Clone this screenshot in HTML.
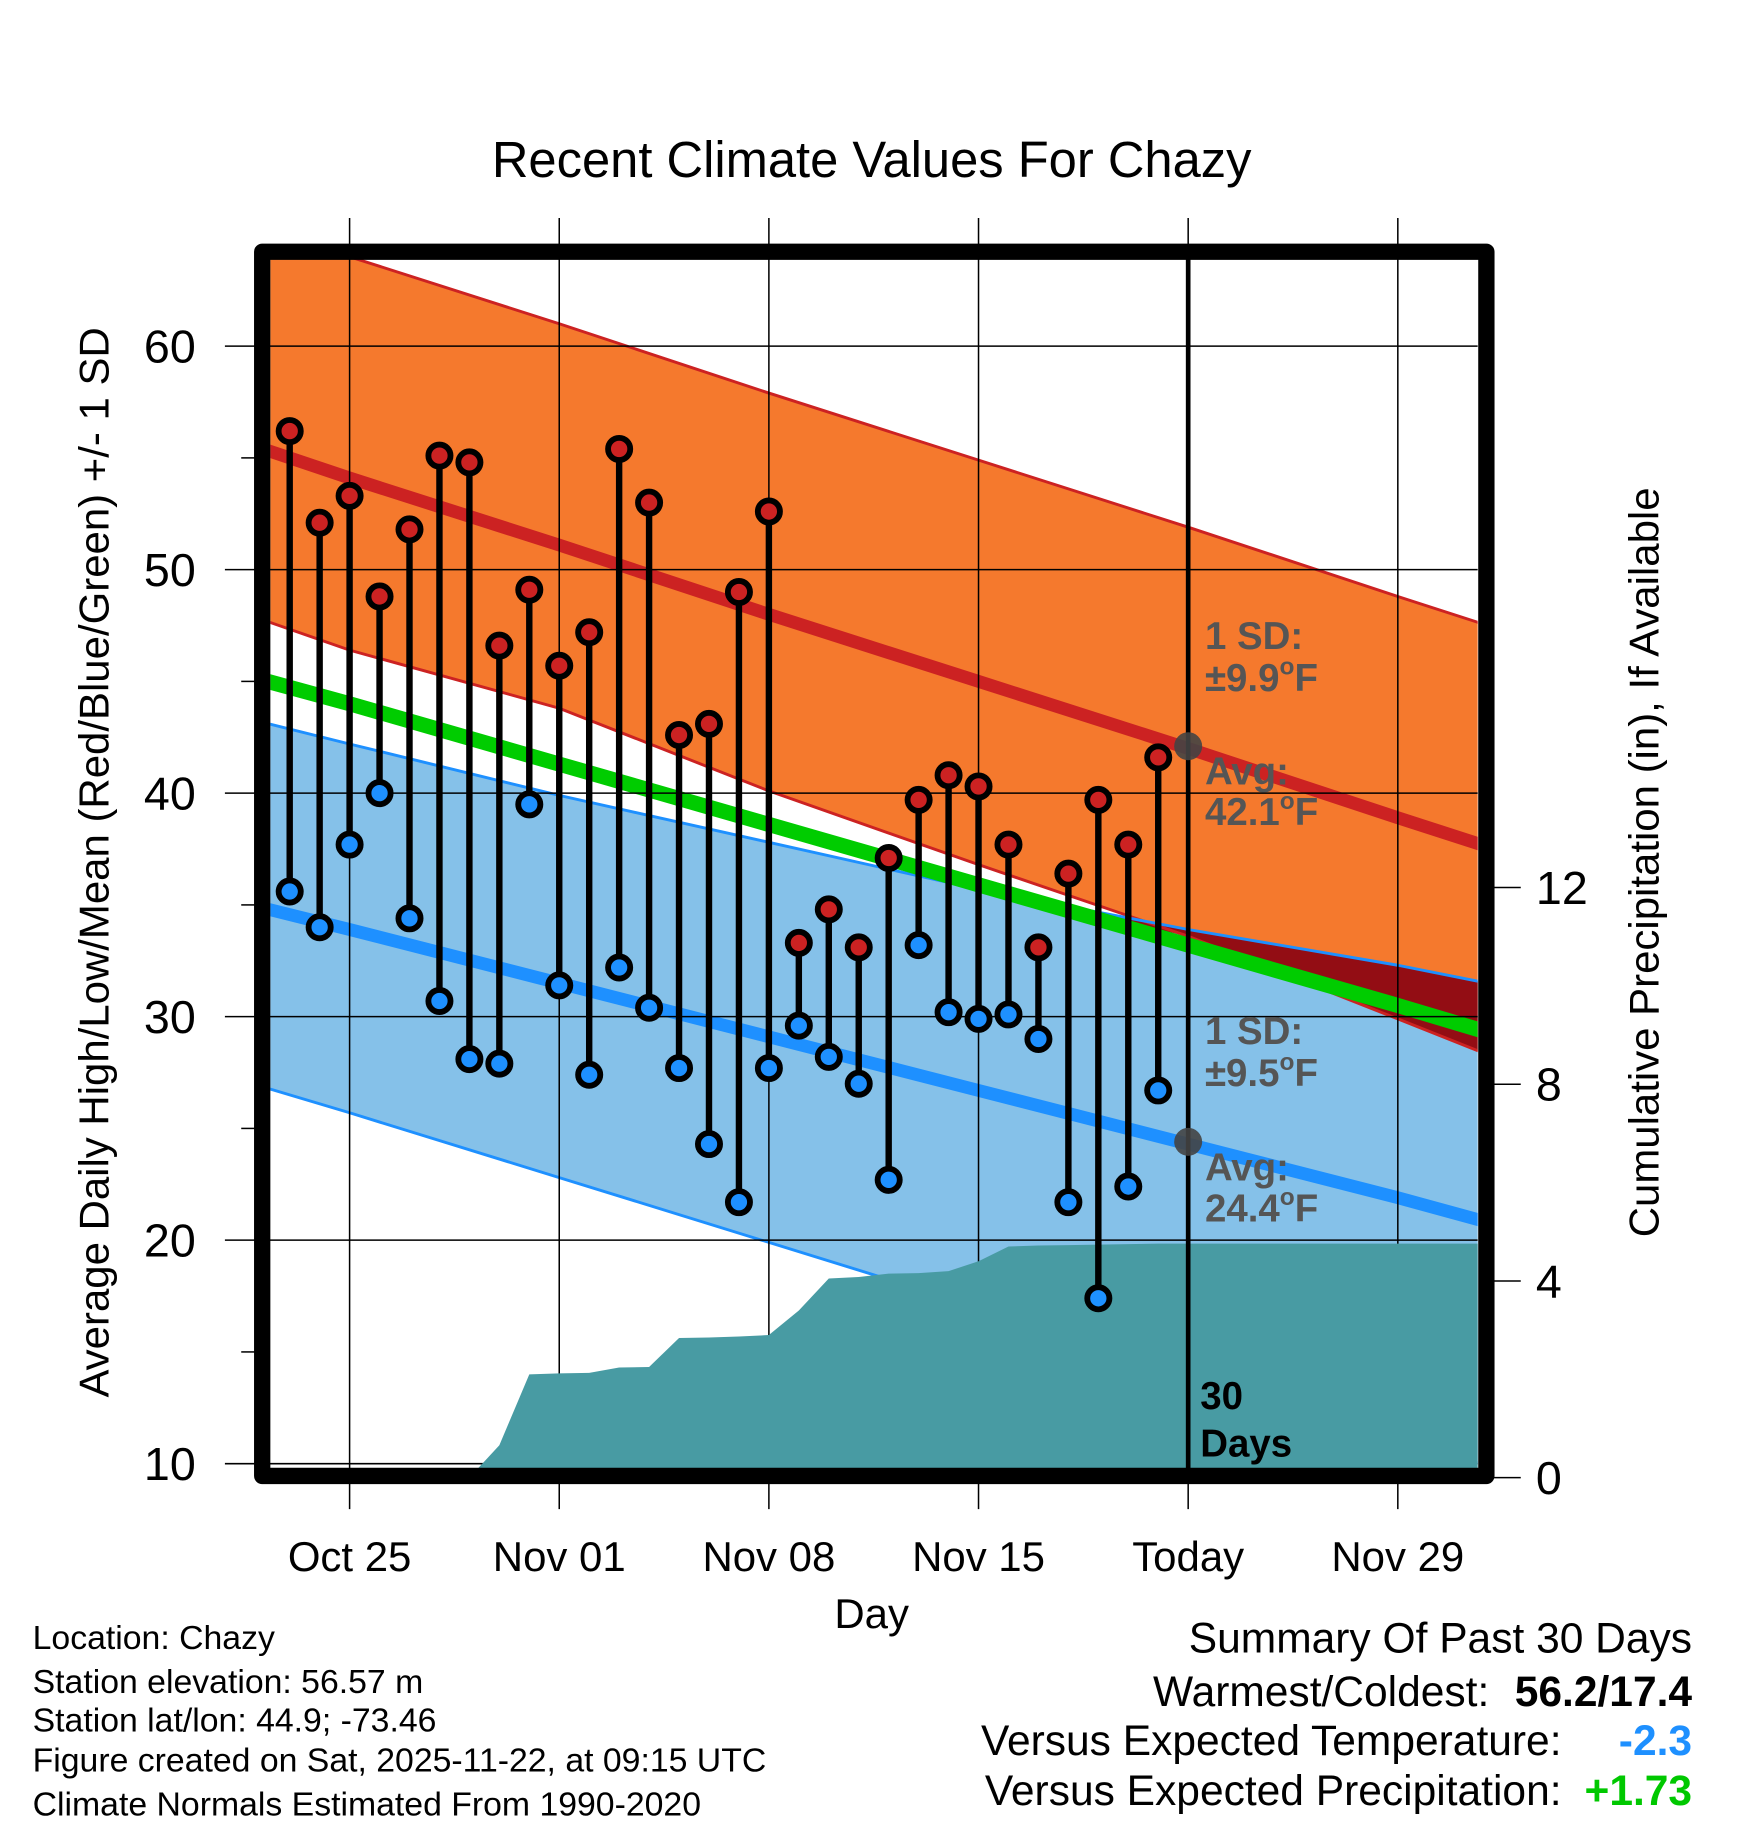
<!DOCTYPE html>
<html><head><meta charset="utf-8"><style>
html,body{margin:0;padding:0;background:#fff;}
svg{display:block;font-family:"Liberation Sans",Arial,sans-serif;}
</style></head><body>
<svg id="chart" width="1748" height="1828" viewBox="0 0 1500 1568.6" xmlns="http://www.w3.org/2000/svg">
<defs><clipPath id="plotClip"><rect x="232" y="222" width="1036" height="1038"/></clipPath></defs>
<text x="748" y="152" font-size="43.5" text-anchor="middle">Recent Climate Values For Chazy</text>
<g id="fills" clip-path="url(#plotClip)"></g>
<g id="grid"></g>
<g id="precip" clip-path="url(#plotClip)"></g>
<g id="marks"></g>
<g id="labels"></g>
<text transform="translate(93,740) rotate(-90)" font-size="36" text-anchor="middle">Average Daily High/Low/Mean (Red/Blue/Green) +/- 1 SD</text>
<text transform="translate(1423,740) rotate(-90)" font-size="36" text-anchor="middle">Cumulative Precipitation (in), If Available</text>
<text x="748" y="1397" font-size="36" text-anchor="middle">Day</text>
<g font-size="29">
<text x="28" y="1415">Location: Chazy</text>
<text x="28" y="1453">Station elevation: 56.57 m</text>
<text x="28" y="1486">Station lat/lon: 44.9; -73.46</text>
<text x="28" y="1520">Figure created on Sat, 2025-11-22, at 09:15 UTC</text>
<text x="28" y="1558">Climate Normals Estimated From 1990-2020</text>
</g>
<g font-size="36.5">
<text x="1452" y="1418" text-anchor="end">Summary Of Past 30 Days</text>
<text x="1278" y="1464" text-anchor="end">Warmest/Coldest:</text>
<text x="1452" y="1464" text-anchor="end" font-weight="bold">56.2/17.4</text>
<text x="1340" y="1506" text-anchor="end">Versus Expected Temperature:</text>
<text x="1452" y="1506" text-anchor="end" font-weight="bold" fill="#1E90FF">-2.3</text>
<text x="1340" y="1549" text-anchor="end">Versus Expected Precipitation:</text>
<text x="1452" y="1549" text-anchor="end" font-weight="bold" fill="#00C800">+1.73</text>
</g>
</svg>
<script>
// Days are offsets from Oct 25
const normDays = [-3, 0, 7, 14, 21, 28, 35, 38];
const highUpper = [65.35, 64.0, 61.0, 57.9, 54.9, 51.9, 48.8, 47.5];
const highAvg = [55.45, 54.1, 51.1, 48.0, 45.0, 42.0, 38.9, 37.6];
const highLower = [47.8, 46.4, 43.8, 40.1, 36.8, 33.6, 29.9, 28.3];
const meanAvg = [45.1, 44.0, 41.3, 38.6, 35.9, 33.2, 30.5, 29.3];
const lowUpper = [43.2, 42.2, 39.9, 37.8, 35.7, 33.9, 32.3, 31.5];
const lowAvg = [34.9, 33.9, 31.5, 29.1, 26.7, 24.3, 21.9, 20.8];
const lowLower = [26.9, 25.7, 22.8, 19.9, 17.0, 14.1, 11.2, 9.9];
const obsDays = [-2,-1,0,1,2,3,4,5,6,7,8,9,10,11,12,13,14,15,16,17,18,19,20,21,22,23,24,25,26,27];
const highs = [56.2,52.1,53.3,48.8,51.8,55.1,54.8,46.6,49.1,45.7,47.2,55.4,53.0,42.6,43.1,49.0,52.6,33.3,34.8,33.1,37.1,39.7,40.8,40.3,37.7,33.1,36.4,39.7,37.7,41.6];
const lows = [35.6,34.0,37.7,40.0,34.4,30.7,28.1,27.9,39.5,31.4,27.4,32.2,30.4,27.7,24.3,21.7,27.7,29.6,28.2,27.0,22.7,33.2,30.2,29.9,30.1,29.0,21.7,17.4,22.4,26.7];
const precipDays = [-3,-2,-1,0,1,2,3,4,5,6,7,8,9,10,11,12,13,14,15,16,17,18,19,20,21,22,23,24,25,26,27,28,38];
const precip = [0,0,0,0,0,0,0,0,0.66,2.1,2.12,2.13,2.24,2.25,2.84,2.85,2.87,2.9,3.4,4.05,4.08,4.15,4.16,4.2,4.4,4.7,4.72,4.73,4.74,4.75,4.76,4.76,4.76];
const tempTicks = [10,20,30,40,50,60];
const precipTicks = [0,4,8,12];
const xTickDays = [0,7,14,21,28,35];
const xTickLabels = ["Oct 25","Nov 01","Nov 08","Nov 15","Today","Nov 29"];
const todayDay = 28;
const todayHigh = 42.1, todayLow = 24.4;

const NS = "http://www.w3.org/2000/svg";
const X = d => 300 + d * 25.7;
const YT = t => 297 + (60 - t) * 19.18;
const YP = p => 1268 - p * 42.2;
function mk(tag, attrs, parent){const e=document.createElementNS(NS,tag);for(const k in attrs)e.setAttribute(k,attrs[k]);parent.appendChild(e);return e;}
const fills=document.getElementById('fills'), grid=document.getElementById('grid'), pr=document.getElementById('precip'), marks=document.getElementById('marks'), labels=document.getElementById('labels');
function band(up, lo){let p=normDays.map((d,i)=>X(d)+','+YT(up[i]));p=p.concat(normDays.map((d,i)=>X(d)+','+YT(lo[i])).reverse());return p.join(' ');}
function line(v){return normDays.map((d,i)=>X(d)+','+YT(v[i])).join(' ');}

let e;
e=mk('polygon',{points:band(lowUpper,lowLower),fill:'#85C1E9'},fills);


e=mk('polygon',{points:band(highUpper,highLower),fill:'#F5792D'},fills);


let op=[];normDays.forEach((d,i)=>{op.push(X(d)+','+YT(lowUpper[i]));});
let opb=[];normDays.forEach((d,i)=>{const bot=Math.min(lowUpper[i],highLower[i]);opb.push(X(d)+','+YT(bot));});
e=mk('polygon',{points:op.concat(opb.reverse()).join(' '),fill:'#930D14'},fills);


[[highUpper,'#CC2222',2.5],[highLower,'#CC2222',2.5],[lowUpper,'#1E90FF',2.5],[lowLower,'#1E90FF',2.5]].forEach(([v,c,w])=>{
 e=mk('polyline',{points:line(v),fill:'none',stroke:c,'stroke-width':w},fills);
 
 
});
e=mk('polyline',{points:line(highAvg),fill:'none',stroke:'#CC2222','stroke-width':11},fills);


e=mk('polyline',{points:line(lowAvg),fill:'none',stroke:'#1E90FF','stroke-width':11},fills);


e=mk('polyline',{points:line(meanAvg),fill:'none',stroke:'#00CC00','stroke-width':13},fills);



tempTicks.forEach(t=>{
 e=mk('line',{x1:193,x2:1268,y1:YT(t),y2:YT(t),stroke:'#000','stroke-width':1.3},grid);
 
 
 e=mk('text',{x:168,y:YT(t)+14,'font-size':40,'text-anchor':'end'},labels);
 e.textContent=t;
 
 
 if(t<60){e=mk('line',{x1:207,x2:220,y1:YT(t+5),y2:YT(t+5),stroke:'#000','stroke-width':1.3},grid);
 
 }
});
xTickDays.forEach((d,i)=>{
 e=mk('line',{x1:X(d),x2:X(d),y1:187,y2:1295,stroke:'#000','stroke-width':1.3},grid);
 
 
 e=mk('text',{x:X(d),y:1348,'font-size':36,'text-anchor':'middle'},labels);
 e.textContent=xTickLabels[i];
 
 
});
precipTicks.forEach(p=>{
 e=mk('line',{x1:1275,x2:1305,y1:YP(p),y2:YP(p),stroke:'#000','stroke-width':1.3},grid);
 
 
 e=mk('text',{x:1318,y:YP(p)+14,'font-size':40},labels);
 e.textContent=p;
 
 
});

let pp=precipDays.map((d,i)=>X(d)+','+YP(precip[i]));
pp.push(X(precipDays[precipDays.length-1])+','+YP(0)); pp.push(X(precipDays[0])+','+YP(0));
e=mk('polygon',{points:pp.join(' '),fill:'#489BA3'},pr);



e=mk('line',{x1:X(todayDay),x2:X(todayDay),y1:222,y2:1260,stroke:'#000','stroke-width':4},marks);



obsDays.forEach((d,i)=>{
 e=mk('line',{x1:X(d),x2:X(d),y1:YT(highs[i]),y2:YT(lows[i]),stroke:'#000','stroke-width':5.5},marks);
 
 
});
obsDays.forEach((d,i)=>{
 e=mk('circle',{cx:X(d),cy:YT(highs[i]),r:9.5,fill:'#CC2222',stroke:'#000','stroke-width':5},marks);
 
 
 e=mk('circle',{cx:X(d),cy:YT(lows[i]),r:9.5,fill:'#1E90FF',stroke:'#000','stroke-width':5},marks);
 
 
});
[todayHigh,todayLow].forEach(v=>{
 e=mk('circle',{cx:X(todayDay),cy:YT(v),r:12,fill:'#444','fill-opacity':0.9},marks);
 
 
});

e=mk('rect',{x:225,y:216,width:1050.5,height:1050.5,fill:'none',stroke:'#000','stroke-width':14,'stroke-linejoin':'round'},marks);



function ann(txt,x,y,col){const t=mk('text',{x:x,y:y,'font-size':33,'font-weight':'bold',fill:col},labels);t.innerHTML=txt;return t;}
const deg='<tspan font-size="21" dy="-14">o</tspan><tspan dy="14">F</tspan>';
e=ann('1 SD:',1034,557,'#555');


e=ann('±9.9'+deg,1034,593,'#555');


e=ann('Avg:',1034,673,'#555');


e=ann('42.1'+deg,1034,708,'#555');


e=ann('1 SD:',1034,896,'#555');


e=ann('±9.5'+deg,1034,932,'#555');


e=ann('Avg:',1034,1013,'#555');


e=ann('24.4'+deg,1034,1048,'#555');


e=ann('30',1030,1209,'#000');


e=ann('Days',1030,1250,'#000');


</script>
</body></html>
